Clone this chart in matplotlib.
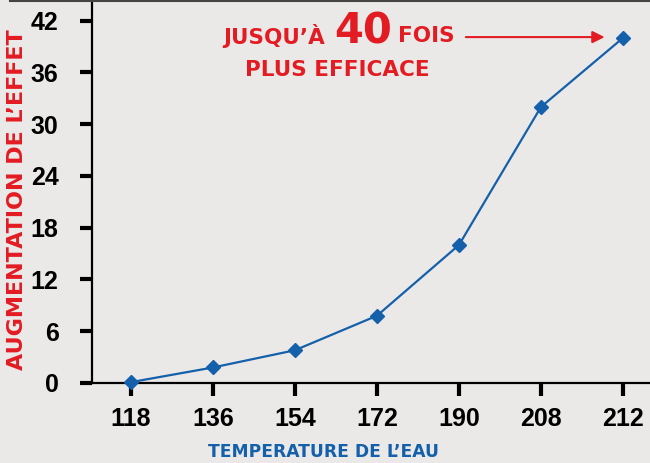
import matplotlib.pyplot as plt
from matplotlib.lines import Line2D

temps = ['118', '136', '154', '172', '190', '208', '212']
effet = [0.1, 1.8, 3.8, 7.8, 16.0, 32.0, 40.0]
yticks = [0, 6, 12, 18, 24, 30, 36, 42]

bg = '#ebe9e7'
red = '#e31b23'
blue = '#1560aa'

W, H = 650, 463
fig = plt.figure(figsize=(6.5, 4.63), dpi=100, facecolor=bg)
ax = fig.add_axes([92/W, (H-383)/H, (W-92)/W, 383/H], facecolor=bg)

x = list(range(len(temps)))
ax.plot(x, effet, color=blue, lw=1.6, marker='D', ms=7.5, mfc=blue, mec=blue, clip_on=False, zorder=3)

ax.set_xlim(-0.476, 6.33)
ax.set_ylim(0, 44.4)
ax.set_xticks(x)
ax.set_xticklabels(temps)
ax.set_yticks(yticks)
for s in ['top', 'right']:
    ax.spines[s].set_visible(False)
for s in ['left', 'bottom']:
    ax.spines[s].set_linewidth(1.6)
    ax.spines[s].set_color('black')
ax.tick_params(axis='both', length=9, width=3, color='black', labelsize=18)
ax.tick_params(axis='x', pad=8)
ax.tick_params(axis='y', pad=15)
for lab in ax.get_xticklabels() + ax.get_yticklabels():
    lab.set_family('Liberation Sans')
    lab.set_fontweight('bold')

fig.text(323/W, 1-452/H, 'TEMPERATURE DE L\u2019EAU', color=blue, fontsize=12.3,
         fontweight='bold', family='DejaVu Sans', ha='center', va='center')
fig.text(17/W, 1-200/H, 'AUGMENTATION DE L\u2019EFFET', color=red, fontsize=16,
         fontweight='bold', family='DejaVu Sans', ha='center', va='center', rotation=90)

# annotation
fig.text(274.5/W, 1-36/H, 'JUSQU\u2019\u00c0', color=red, fontsize=15.5, fontweight='bold',
         family='DejaVu Sans', ha='center', va='center')
fig.text(363/W, 1-31/H, '40', color=red, fontsize=30, fontweight='bold',
         family='DejaVu Sans', ha='center', va='center')
fig.text(426.5/W, 1-36/H, 'FOIS', color=red, fontsize=15.5, fontweight='bold',
         family='DejaVu Sans', ha='center', va='center')
fig.text(337.5/W, 1-70/H, 'PLUS EFFICACE', color=red, fontsize=15.5, fontweight='bold',
         family='DejaVu Sans', ha='center', va='center')
ax.annotate('', xy=(6 - 0.19, 40.1), xytext=(4.05, 40.1),
            arrowprops=dict(arrowstyle='-|>', color=red, lw=1.5, mutation_scale=18))

fig.add_artist(Line2D([10/W, 1], [1-1/H, 1-1/H], color='#444444', lw=1.5, transform=fig.transFigure))

fig.savefig('out.png', dpi=100, facecolor=bg)
